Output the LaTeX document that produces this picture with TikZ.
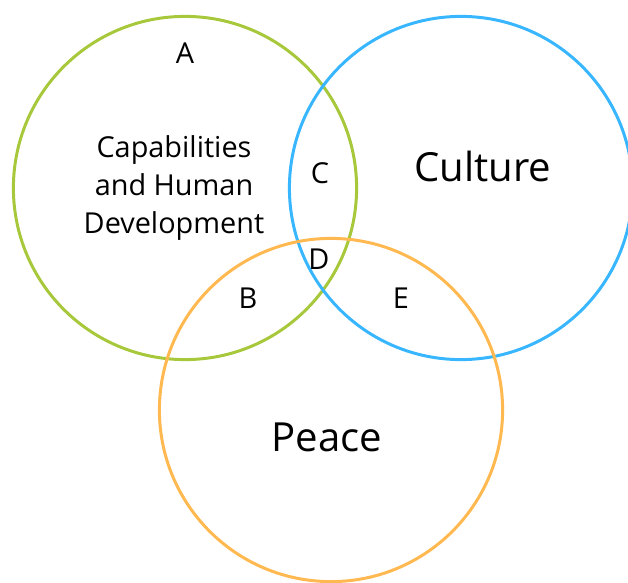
\documentclass[tikz,border=0pt]{standalone}
\usepackage{fontspec}
\setmainfont{Open Sans}
\definecolor{capagreen}{RGB}{168,200,60}
\definecolor{cultblue}{RGB}{56,182,255}
\definecolor{peaceorange}{RGB}{255,185,80}
\tikzset{
	ring/.style={circle,draw=#1,line width=0.85pt,minimum size=3.43cm,inner sep=0pt},
	small/.style={font=\fontsize{8.2}{10.8}\selectfont,align=center},
	big/.style={font=\fontsize{11.4}{14}\selectfont},
}
\begin{document}
\begin{tikzpicture}[x=0.01cm,y=-0.01cm]
	\useasboundingbox (0,0) rectangle (628,582);
	\path
		  (185,188) node[ring=capagreen]   (capa)    {}
		  (461,188) node[ring=cultblue]    (culture) {}
		  (331,410) node[ring=peaceorange] (peace)   {}
	;
	\path
		  (174,188) node[small] (capatext) {Capabilities\\and Human\\Development}
		  (483,166) node[big]   (culttext) {Culture}
		  (327,437) node[big]   (peacetext) {Peace}
		  (185, 53) node[small] (a) {A}
		  (320,173) node[small] (c) {C}
		  (319,259) node[small] (d) {D}
		  (248,298) node[small] (b) {B}
		  (401,298) node[small] (e) {E}
	;
\end{tikzpicture}
\end{document}
